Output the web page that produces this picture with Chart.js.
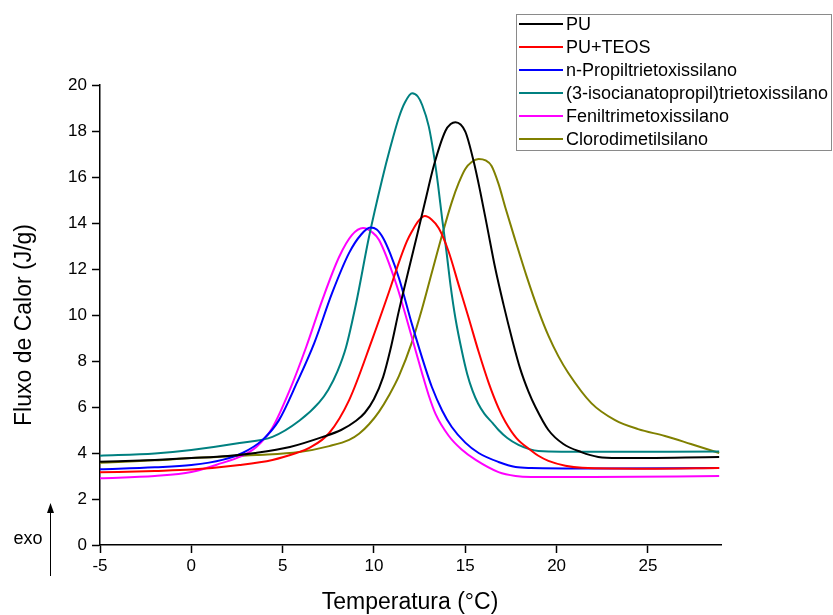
<!DOCTYPE html>
<html>
<head>
<meta charset="utf-8">
<script src="https://cdn.jsdelivr.net/npm/chart.js@4/dist/chart.umd.min.js"></script>
<style>
  html, body { margin: 0; padding: 0; background: #fff; }
  #wrap { width: 833px; height: 615px; position: relative; }
</style>
</head>
<body>
<div id="wrap"><canvas id="dsc"></canvas></div>
<script>
// curvas DSC (temperatura em °C, fluxo em J/g)
const tempPU = [-5, -2, 0, 2, 3.5, 5.4, 7.2, 8.2, 9.02, 9.5, 10.0, 10.5, 10.9, 11.37, 11.91, 12.37, 12.82, 13.28, 13.91, 14.2, 14.46, 15.0, 15.46, 15.82, 16.18, 16.64, 17.1, 17.55, 18.0, 18.46, 18.84, 19.55, 20.37, 21.35, 22.28, 23.37, 28.9];
const fluxPU = [3.62, 3.7, 3.78, 3.87, 4.0, 4.26, 4.7, 5.0, 5.4, 5.75, 6.35, 7.3, 8.5, 10.2, 12.0, 13.5, 15.0, 16.5, 18.0, 18.3, 18.38, 17.97, 16.67, 15.36, 13.91, 12.03, 10.43, 8.99, 7.68, 6.67, 6.0, 5.0, 4.39, 4.04, 3.83, 3.78, 3.83];

const tempTEOS = [-5, -2, 0, 2.64, 4.44, 5.75, 6.46, 7.55, 8.64, 9.89, 10.82, 11.37, 11.8, 12.09, 12.45, 12.79, 13.15, 13.55, 14.09, 14.64, 15.19, 15.73, 16.28, 16.82, 17.2, 17.8, 18.62, 19.0, 19.55, 20.48, 21.4, 25, 28.9];
const fluxTEOS = [3.16, 3.22, 3.28, 3.48, 3.7, 4.0, 4.22, 4.87, 6.3, 8.91, 11.0, 12.3, 13.2, 13.65, 14.1, 14.3, 14.15, 13.77, 12.75, 11.3, 9.86, 8.4, 7.05, 5.95, 5.35, 4.65, 4.1, 3.88, 3.66, 3.45, 3.36, 3.32, 3.35];

const tempPropil = [-5, -2, 0, 1.7, 2.8, 3.9, 4.8, 5.8, 6.73, 7.71, 8.64, 9.3, 9.8, 10.15, 10.5, 10.9, 11.37, 12.09, 12.82, 13.17, 13.73, 14.26, 15.0, 15.73, 16.82, 17.75, 18.6, 22, 28.9];
const fluxPropil = [3.29, 3.38, 3.48, 3.7, 4.0, 4.57, 5.43, 7.09, 8.78, 10.96, 12.7, 13.5, 13.8, 13.72, 13.35, 12.65, 11.6, 9.57, 7.68, 6.87, 5.85, 5.13, 4.45, 4.0, 3.61, 3.39, 3.35, 3.33, 3.35];

const tempIsocian = [-5, -2, 0, 2.64, 4.44, 5.91, 7.0, 7.5, 8.0, 8.47, 9.02, 9.73, 10.44, 10.9, 11.37, 11.7, 12.09, 12.4, 12.64, 13.0, 13.28, 13.51, 13.73, 13.97, 14.19, 14.46, 14.82, 15.1, 15.4, 15.7, 16.05, 16.5, 16.82, 17.3, 17.91, 18.5, 19.0, 22, 28.9];
const fluxIsocian = [3.88, 3.98, 4.13, 4.43, 4.7, 5.4, 6.2, 6.75, 7.55, 8.6, 10.5, 13.4, 15.87, 17.3, 18.6, 19.25, 19.64, 19.5, 19.13, 18.2, 16.95, 15.65, 14.2, 12.75, 11.3, 9.86, 8.4, 7.45, 6.7, 6.15, 5.7, 5.3, 5.0, 4.65, 4.35, 4.17, 4.09, 4.05, 4.06];

const tempFenil = [-5, -2, 0, 1.7, 2.64, 3.56, 4.44, 5.37, 6.29, 7.17, 8.09, 8.8, 9.4, 9.9, 10.28, 11.2, 12.09, 12.64, 13.0, 13.37, 14.09, 14.8, 15.57, 16.82, 17.75, 18.6, 22, 28.9];
const fluxFenil = [2.9, 3.0, 3.17, 3.57, 3.83, 4.26, 5.1, 6.7, 8.61, 10.65, 12.52, 13.48, 13.78, 13.6, 13.26, 11.39, 8.99, 7.45, 6.5, 5.7, 4.75, 4.15, 3.7, 3.17, 3.0, 2.96, 2.96, 3.0];

const tempCloro = [-5, -2, 0, 3.56, 5.91, 7.55, 8.64, 9.2, 9.73, 10.28, 10.82, 11.37, 12.09, 12.64, 13.18, 13.73, 14.27, 14.64, 15.0, 15.35, 15.73, 16.11, 16.44, 16.82, 17.2, 17.75, 18.35, 19.0, 19.55, 20.1, 20.64, 21.9, 23.2, 24.46, 25.93, 27.35, 28.9];
const fluxCloro = [3.58, 3.68, 3.78, 3.91, 4.04, 4.3, 4.57, 4.85, 5.25, 5.8, 6.5, 7.35, 8.84, 10.29, 11.88, 13.48, 14.93, 15.74, 16.35, 16.65, 16.78, 16.72, 16.48, 15.7, 14.65, 13.22, 11.7, 10.2, 9.1, 8.2, 7.48, 6.17, 5.43, 5.04, 4.74, 4.39, 4.0];

const seriesLabels = ['PU', 'PU+TEOS', 'n-Propiltrietoxissilano', '(3-isocianatopropil)trietoxissilano', 'Feniltrimetoxissilano', 'Clorodimetilsilano'];
const seriesTemps = [tempPU, tempTEOS, tempPropil, tempIsocian, tempFenil, tempCloro];
const seriesFlux = [fluxPU, fluxTEOS, fluxPropil, fluxIsocian, fluxFenil, fluxCloro];
const seriesColors = ['#000000', '#ff0000', '#0000ff', '#008080', '#ff00ff', '#808000'];

const xTicks = [-5, 0, 5, 10, 15, 20, 25];

const FONT = '"Liberation Sans", Arial, sans-serif';

const datasets = seriesLabels.map((label, i) => ({
  label: label,
  data: seriesTemps[i].map((t, k) => ({ x: t, y: seriesFlux[i][k] })),
  borderColor: seriesColors[i],
  backgroundColor: seriesColors[i],
  borderWidth: 2,
  pointRadius: 0,
  fill: false,
  cubicInterpolationMode: 'monotone'
}));

// legenda com moldura, desenhada por cima da área do gráfico
const boxLegend = {
  id: 'boxLegend',
  afterDraw(chart) {
    const ctx = chart.ctx;
    const left = 516, top = 14, w = 315, rowH = 23;
    const h = rowH * chart.data.datasets.length - 2;
    ctx.save();
    ctx.fillStyle = '#fff';
    ctx.fillRect(left, top, w, h);
    ctx.strokeStyle = '#8a8a8a';
    ctx.lineWidth = 1;
    ctx.strokeRect(left + 0.5, top + 0.5, w, h);
    ctx.font = '18px ' + FONT;
    ctx.textBaseline = 'middle';
    chart.data.datasets.forEach((ds, i) => {
      const y = top + 10 + i * rowH;
      ctx.strokeStyle = ds.borderColor;
      ctx.lineWidth = 2;
      ctx.beginPath();
      ctx.moveTo(519, y);
      ctx.lineTo(563, y);
      ctx.stroke();
      ctx.fillStyle = '#000';
      ctx.fillText(ds.label, 566, y + 1);
    });
    ctx.restore();
  }
};

// títulos dos eixos e a seta "exo"
const axisText = {
  id: 'axisText',
  afterDraw(chart) {
    const ctx = chart.ctx;
    ctx.save();
    ctx.fillStyle = '#000';
    ctx.font = '23px ' + FONT;
    ctx.textAlign = 'center';
    ctx.textBaseline = 'middle';
    ctx.fillText('Temperatura (°C)', 410, 603);
    ctx.save();
    ctx.translate(25, 325);
    ctx.rotate(-Math.PI / 2);
    ctx.fillText('Fluxo de Calor (J/g)', 0, 0);
    ctx.restore();

    ctx.font = '18px ' + FONT;
    ctx.fillText('exo', 28, 539);
    ctx.strokeStyle = '#000';
    ctx.lineWidth = 1;
    ctx.beginPath();
    ctx.moveTo(50.5, 576);
    ctx.lineTo(50.5, 510);
    ctx.stroke();
    ctx.beginPath();
    ctx.moveTo(50.5, 503);
    ctx.lineTo(47, 513);
    ctx.lineTo(54, 513);
    ctx.closePath();
    ctx.fill();
    ctx.restore();
  }
};

new Chart(document.getElementById('dsc'), {
  type: 'line',
  data: { datasets: datasets },
  options: {
    responsive: true,
    maintainAspectRatio: false,
    animation: false,
    layout: { padding: { top: 85, right: 112, left: 0, bottom: 0 } },
    plugins: {
      legend: { display: false },
      tooltip: { enabled: false }
    },
    scales: {
      x: {
        type: 'linear',
        min: -5,
        max: 29,
        afterBuildTicks(scale) {
          scale.ticks = xTicks.map(v => ({ value: v }));
        },
        afterFit(scale) { scale.height = 70; },
        grid: { drawOnChartArea: false, tickLength: 8, color: '#000', tickWidth: 1.5 },
        border: { color: '#000', width: 1.5 },
        ticks: { color: '#000', font: { size: 17, family: FONT }, padding: 3, maxRotation: 0 }
      },
      y: {
        min: 0,
        max: 20,
        ticks: { stepSize: 2, color: '#000', font: { size: 17, family: FONT }, padding: 5 },
        afterFit(scale) { scale.width = 100; },
        grid: { drawOnChartArea: false, tickLength: 8, color: '#000', tickWidth: 1.5 },
        border: { color: '#000', width: 1.5 }
      }
    }
  },
  plugins: [boxLegend, axisText]
});
</script>
</body>
</html>
